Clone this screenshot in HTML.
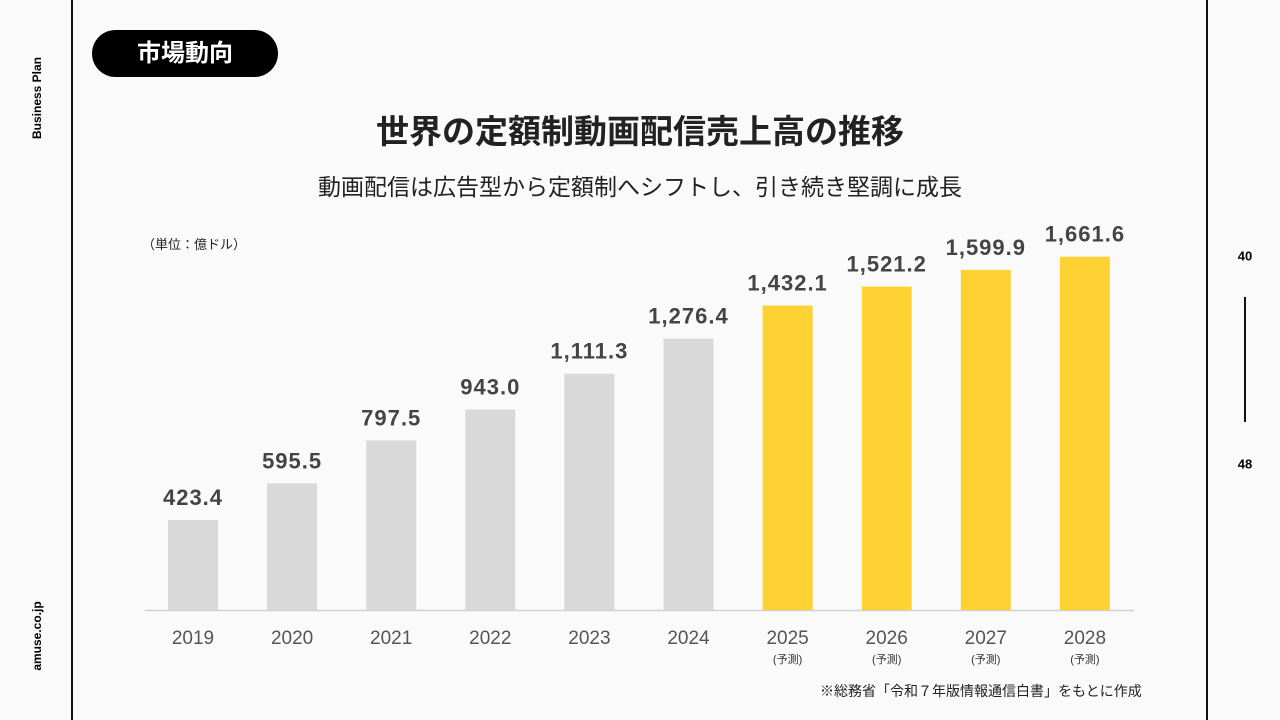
<!DOCTYPE html>
<html><head><meta charset="utf-8"><style>
body{margin:0;width:1280px;height:720px;background:#fafafa;position:relative;overflow:hidden;font-family:"Liberation Sans","Noto Sans CJK JP",sans-serif;}
.abs{position:absolute;}
</style></head><body>
<div class="abs" style="left:71px;top:0;width:2px;height:720px;background:#111"></div>
<div class="abs" style="left:1206px;top:0;width:2px;height:720px;background:#111"></div>
<div class="abs" style="left:37px;top:98px;transform:translate(-50%,-50%) rotate(-90deg);font-size:12px;font-weight:bold;white-space:nowrap">Business Plan</div>
<div class="abs" style="left:37px;top:636px;transform:translate(-50%,-50%) rotate(-90deg);font-size:12px;font-weight:bold;white-space:nowrap">amuse.co.jp</div>
<div class="abs" style="left:1245px;top:256px;transform:translate(-50%,-50%);font-size:13px;font-weight:bold">40</div>
<div class="abs" style="left:1244px;top:297px;width:2px;height:125px;background:#111"></div>
<div class="abs" style="left:1245px;top:464px;transform:translate(-50%,-50%);font-size:13px;font-weight:bold">48</div>
<div class="abs" style="left:92px;top:30px;width:186px;height:47px;border-radius:24px;background:#000;color:#fff;font-size:24px;font-weight:bold;line-height:47px;text-align:center">市場動向</div>
<div class="abs" style="left:0;width:1280px;top:105px;text-align:center;font-size:33px;font-weight:bold;color:#222">世界の定額制動画配信売上高の推移</div>
<div class="abs" style="left:0;width:1280px;top:168px;text-align:center;font-size:23px;color:#222">動画配信は広告型から定額制へシフトし、引き続き堅調に成長</div>
<div class="abs" style="left:142px;top:234px;font-size:13px;color:#222">（単位：億ドル）</div>
<div class="abs" style="left:820px;top:681px;font-size:14px;color:#222">※総務省「令和７年版情報通信白書」をもとに作成</div>
<svg class="abs" style="left:0;top:0" width="1280" height="720" id="chart"></svg>
<script>
const years=["2019","2020","2021","2022","2023","2024","2025","2026","2027","2028"];
const values=[423.4,595.5,797.5,943.0,1111.3,1276.4,1432.1,1521.2,1599.9,1661.6];
const valueLabels=["423.4","595.5","797.5","943.0","1,111.3","1,276.4","1,432.1","1,521.2","1,599.9","1,661.6"];
const forecast=[false,false,false,false,false,false,true,true,true,true];
const svg=document.getElementById('chart');
const NS='http://www.w3.org/2000/svg';
const baseY=610, yScale=v=>baseY-v*0.2126;
const xCenter=i=>193+i*99.1;
const bw=50;
function mk(t,a){const e=document.createElementNS(NS,t);for(const k in a)e.setAttribute(k,a[k]);svg.appendChild(e);return e;}
const ax=mk('line',{x1:145,x2:1134,y1:baseY+0.5,y2:baseY+0.5,stroke:'#d0d0d0','stroke-width':1.5});


values.forEach((v,i)=>{
  const y=yScale(v);
  const r=mk('rect',{x:xCenter(i)-bw/2,y:y,width:bw,height:baseY-y,fill:forecast[i]?'#ffd233':'#d9d9d9'});
  
  
  const t=mk('text',{x:xCenter(i),y:y-15,'text-anchor':'middle','font-size':22,'font-weight':'bold',fill:'#444','letter-spacing':1});
  t.textContent=valueLabels[i];
  
  
  const yl=mk('text',{x:xCenter(i),y:644,'text-anchor':'middle','font-size':19,fill:'#555'});
  yl.textContent=years[i];
  
  
  if(forecast[i]){
    const f=mk('text',{x:xCenter(i),y:663,'text-anchor':'middle','font-size':11,fill:'#333'});
    f.textContent='(予測)';
    
    
  }
});
</script>
</body></html>
